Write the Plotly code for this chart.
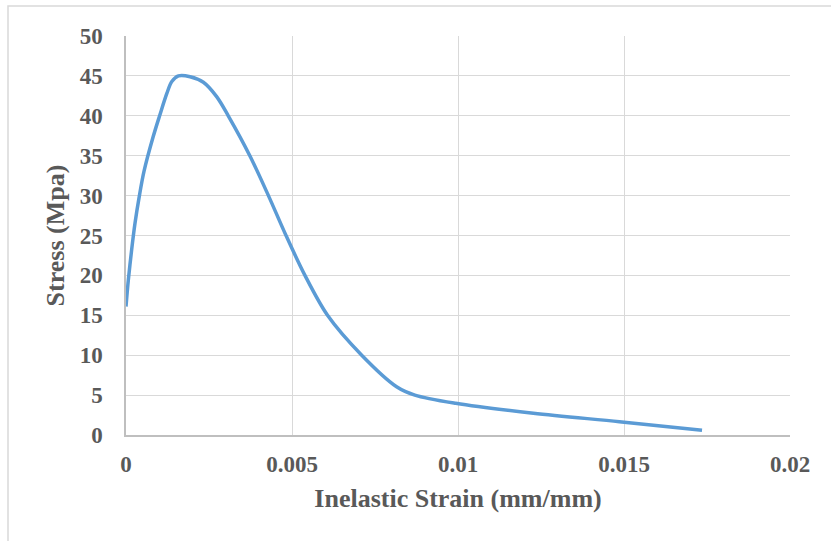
import plotly.graph_objects as go

# Inelastic strain (mm/mm) and compressive stress (MPa)
strain = [0.0, 0.00007, 0.00017, 0.00027, 0.0004, 0.00054, 0.00082, 0.00102,
          0.00123, 0.00138, 0.00158, 0.00193, 0.00233, 0.00273, 0.00308,
          0.00373, 0.00429, 0.00482, 0.00539, 0.00607, 0.0071, 0.00815,
          0.0087, 0.00993, 0.01227, 0.01486, 0.01735]
stress = [16.1, 19.4, 23.2, 26.5, 29.9, 33.0, 37.4, 40.1,
          42.8, 44.3, 45.0, 44.9, 44.2, 42.4, 40.0,
          35.0, 30.0, 25.0, 20.0, 15.0, 10.0, 6.05,
          5.0, 3.97, 2.72, 1.67, 0.6]

x_ticks = [0, 0.005, 0.01, 0.015, 0.02]
x_labels = ["0", "0.005", "0.01", "0.015", "0.02"]
y_ticks = list(range(0, 51, 5))

W, H = 831, 541
L, T, R, B = 126, 36, 790, 435

fig = go.Figure(go.Scatter(
    x=strain, y=stress, mode="lines",
    line=dict(color="#5b9bd5", width=3.5, shape="spline", smoothing=0.9),
    hoverinfo="x+y", showlegend=False,
))

font_gray = "#595959"
serif = "Liberation Serif, Times New Roman, serif"
tick_font = dict(family=serif, size=23, color=font_gray, weight="bold")
title_font = dict(family=serif, size=26, color=font_gray, weight="bold")

fig.update_layout(
    width=W, height=H,
    margin=dict(l=L, r=W - R, t=T, b=H - B, pad=0),
    paper_bgcolor="white", plot_bgcolor="white",
    xaxis=dict(
        range=[0, 0.02], tickvals=x_ticks, ticktext=x_labels,
        showgrid=True, gridcolor="#d9d9d9", gridwidth=1,
        showline=True, linecolor="#bfbfbf", linewidth=1.5,
        zeroline=False, ticks="", tickfont=tick_font,
        ticklabelstandoff=8,
        title=dict(text="Inelastic Strain (mm/mm)", font=title_font, standoff=12),
    ),
    yaxis=dict(
        range=[0, 50], tickvals=y_ticks,
        showgrid=True, gridcolor="#d9d9d9", gridwidth=1,
        showline=True, linecolor="#bfbfbf", linewidth=1.5,
        zeroline=False, ticks="", tickfont=tick_font,
        ticklabelstandoff=17,
        title=dict(text="Stress (Mpa)", font=title_font, standoff=8),
    ),
)

# light chart-area frame
pw, ph = R - L, B - T
fig.add_shape(
    type="rect", xref="paper", yref="paper",
    x0=(8 - L) / pw, x1=(W + 5 - L) / pw,
    y0=(B - (H + 5)) / ph, y1=(B - 6) / ph,
    line=dict(color="#d9d9d9", width=1.5), fillcolor="rgba(0,0,0,0)",
    layer="below",
)

fig.write_html("out.html")
